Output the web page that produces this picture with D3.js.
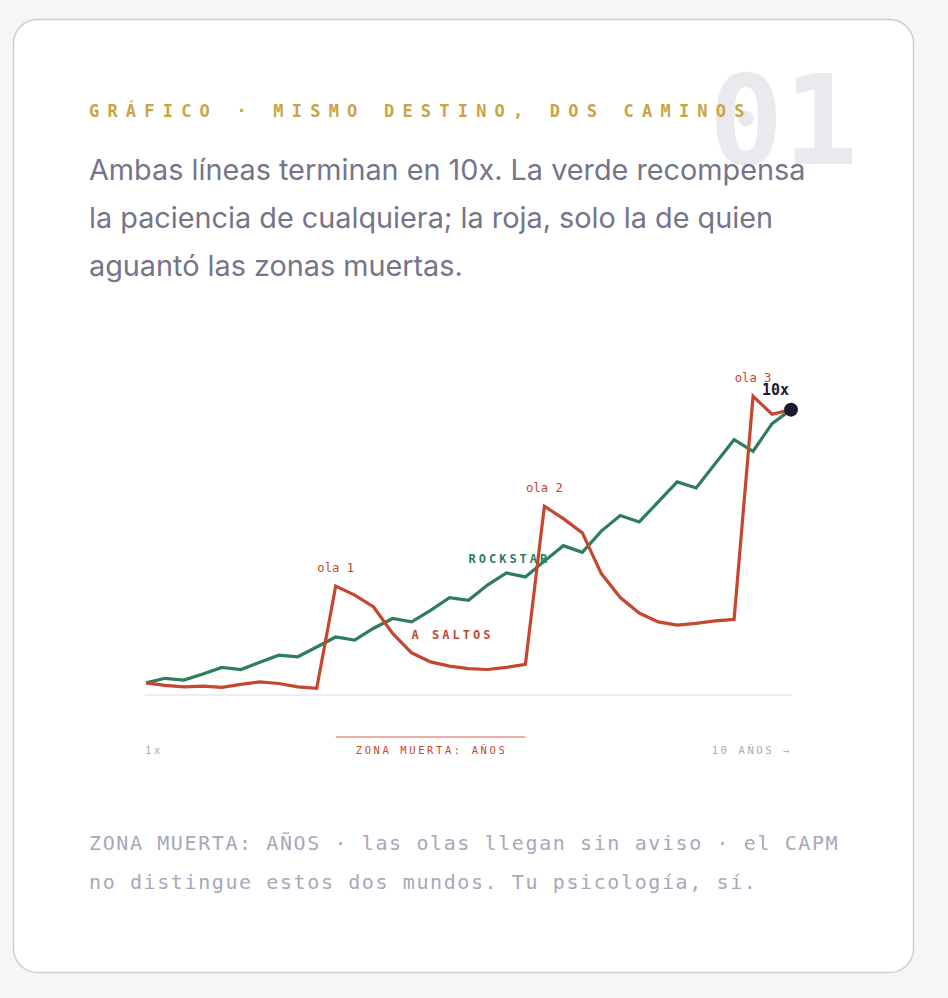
<!DOCTYPE html>
<html>
<head>
<meta charset="utf-8">
<script src="https://cdn.jsdelivr.net/npm/d3@7"></script>
<style>
  html, body { margin: 0; padding: 0; background: #f7f6f4; }
  svg { display: block; }
</style>
</head>
<body>
<div id="chart"></div>
<script>
// data: value as a multiple of the start (1x), 35 steps over 10 years
const rockstar = [1.00, 1.15, 1.09, 1.29, 1.51, 1.44, 1.68, 1.91, 1.86, 2.18, 2.51, 2.41,
  2.80, 3.12, 3.01, 3.39, 3.81, 3.72, 4.22, 4.62, 4.49, 5.01, 5.52, 5.30, 6.00, 6.51,
  6.30, 6.96, 7.62, 7.42, 8.22, 9.01, 8.63, 9.54, 10.00];
const saltos = [1.00, 0.92, 0.87, 0.89, 0.85, 0.95, 1.03, 0.98, 0.87, 0.82, 4.19, 3.89,
  3.50, 2.63, 1.99, 1.69, 1.55, 1.47, 1.44, 1.51, 1.61, 6.82, 6.41, 5.94, 4.60, 3.81,
  3.30, 3.01, 2.90, 2.96, 3.04, 3.09, 10.44, 9.85, 10.00];
const waves = [
  { label: "ola 1", idx: 10 },
  { label: "ola 2", idx: 21 },
  { label: "ola 3", idx: 32 }
];
const deadZone = [10, 20];
const axisLabels = { start: "1x", zone: "ZONA MUERTA: AÑOS", end: "10 AÑOS →" };
const kicker = "GRÁFICO · MISMO DESTINO, DOS CAMINOS";
const lede = ["Ambas líneas terminan en 10x. La verde recompensa",
  "la paciencia de cualquiera; la roja, solo la de quien",
  "aguantó las zonas muertas."];
const footnote = ["ZONA MUERTA: AÑOS · las olas llegan sin aviso · el CAPM",
  "no distingue estos dos mundos. Tu psicología, sí."];

const W = 948, H = 998;
const mono = "'DejaVu Sans Mono', 'Liberation Mono', monospace";
const sans = "Inter, 'Noto Sans', sans-serif";
const green = "#2e7d5b", red = "#c7462f";

const svg = d3.select("#chart").append("svg")
  .attr("width", W)
  .attr("height", H);

// card
svg.append("rect")
  .attr("x", 13.5).attr("y", 19.5)
  .attr("width", 900).attr("height", 953)
  .attr("rx", 24).attr("ry", 24)
  .style("fill", "#fff")
  .style("stroke", "#cfced6")
  .style("stroke-width", 1.5);

// big number behind the kicker
svg.append("text")
  .attr("x", 858).attr("y", 164)
  .attr("text-anchor", "end")
  .style("font-family", mono)
  .style("font-weight", 700)
  .style("font-size", "124px")
  .style("fill", "#e9e9ee")
  .text("01");

svg.append("text")
  .attr("x", 89).attr("y", 117)
  .style("font-family", mono)
  .style("font-weight", 700)
  .style("font-size", "17px")
  .style("letter-spacing", "8.2px")
  .style("fill", "#c9a443")
  .text(kicker);

svg.append("text")
  .attr("y", 180)
  .style("font-family", sans)
  .style("font-size", "28.8px")
  .style("fill", "#76748b")
  .selectAll("tspan")
  .data(lede)
  .join("tspan")
  .attr("x", 89)
  .attr("dy", (d, i) => i ? 48 : 0)
  .text(d => d);

// scales
const x = d3.scaleLinear()
  .domain([0, rockstar.length - 1])
  .range([146, 791]);
const y = d3.scaleLinear()
  .domain([0.6, 10.45])
  .range([695, 396]);

const g = svg.append("g");

// baseline
g.append("line")
  .attr("x1", 145).attr("x2", 792)
  .attr("y1", y(0.6)).attr("y2", y(0.6))
  .style("stroke", "#dcdce2")
  .style("stroke-width", 1);

const line = d3.line()
  .x((d, i) => x(i))
  .y(d => y(d));

g.append("path")
  .datum(rockstar)
  .attr("d", line)
  .style("fill", "none")
  .style("stroke", green)
  .style("stroke-width", 3.2)
  .style("stroke-linejoin", "miter");

g.append("path")
  .datum(saltos)
  .attr("d", line)
  .style("fill", "none")
  .style("stroke", red)
  .style("stroke-width", 3.2)
  .style("stroke-linejoin", "miter");

// wave labels
g.selectAll(".wave")
  .data(waves)
  .join("text")
  .attr("class", "wave")
  .attr("x", d => x(d.idx))
  .attr("y", d => y(saltos[d.idx]) - 14)
  .attr("text-anchor", "middle")
  .style("font-family", mono)
  .style("font-size", "12.2px")
  .style("fill", red)
  .text(d => d.label);

// series labels
g.append("text")
  .attr("x", x(17))
  .attr("y", y(4.95))
  .style("font-family", mono)
  .style("font-weight", 700)
  .style("font-size", "12px")
  .style("letter-spacing", "3px")
  .style("fill", green)
  .text("ROCKSTAR");

g.append("text")
  .attr("x", x(14))
  .attr("y", y(2.45))
  .style("font-family", mono)
  .style("font-weight", 700)
  .style("font-size", "12px")
  .style("letter-spacing", "3px")
  .style("fill", red)
  .text("A SALTOS");

// end point
const last = rockstar.length - 1;
g.append("circle")
  .attr("cx", x(last))
  .attr("cy", y(rockstar[last]))
  .attr("r", 7)
  .style("fill", "#1b1b2c");

g.append("text")
  .attr("x", x(last) - 2)
  .attr("y", y(rockstar[last]) - 15)
  .attr("text-anchor", "end")
  .style("font-family", mono)
  .style("font-weight", 700)
  .style("font-size", "15px")
  .style("fill", "#1b1b2c")
  .text("10x");

// dead zone marker
g.append("line")
  .attr("x1", x(deadZone[0])).attr("x2", x(deadZone[1]))
  .attr("y1", 737).attr("y2", 737)
  .style("stroke", "#e3998a")
  .style("stroke-width", 1.5);

const axisText = (txt, xpos, anchor, color) => g.append("text")
  .attr("x", xpos)
  .attr("y", 754)
  .attr("text-anchor", anchor)
  .style("font-family", mono)
  .style("font-size", "10.5px")
  .style("letter-spacing", "2.6px")
  .style("fill", color)
  .text(txt);

axisText(axisLabels.start, 145, "start", "#aaa8ba");
axisText(axisLabels.zone, (x(deadZone[0]) + x(deadZone[1])) / 2 + 1, "middle", red);
axisText(axisLabels.end, 792, "end", "#aaa8ba");

// footnote
svg.append("text")
  .attr("y", 850)
  .style("font-family", mono)
  .style("font-size", "20px")
  .style("letter-spacing", "1.6px")
  .style("fill", "#a9a7bb")
  .selectAll("tspan")
  .data(footnote)
  .join("tspan")
  .attr("x", 89)
  .attr("dy", (d, i) => i ? 39 : 0)
  .text(d => d);
</script>
</body>
</html>
